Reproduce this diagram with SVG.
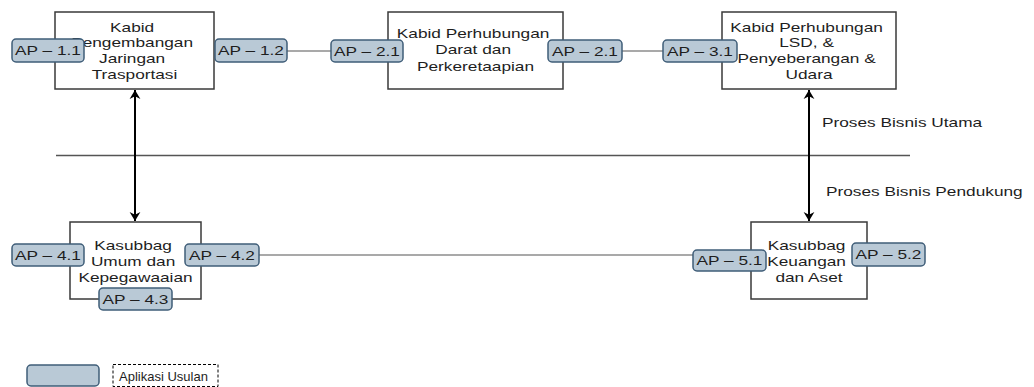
<svg xmlns="http://www.w3.org/2000/svg" width="1034" height="387" viewBox="0 0 1034 387">
  <style>
    .box { fill: #ffffff; stroke: #3a3a3a; stroke-width: 1.5; }
    .ap { fill: #b9c9d6; stroke: #3f5d78; stroke-width: 1.5; }
    .lbl { font-family: "Liberation Sans", Arial, sans-serif; font-size: 12px; fill: #1e1e1e; text-anchor: middle; }
    .side { font-family: "Liberation Sans", Arial, sans-serif; font-size: 12px; fill: #1e1e1e; }
    .link { stroke: #555555; stroke-width: 1.2; fill: none; }
    .flow { stroke: #000000; stroke-width: 2; fill: none; }
  </style>
  <defs>
    <marker id="head" viewBox="0 0 10 12" refX="10" refY="6" markerWidth="9" markerHeight="12" markerUnits="userSpaceOnUse" orient="auto-start-reverse">
      <path d="M0,0 L10,6 L0,12 L3,6 z" fill="#000000"/>
    </marker>
  </defs>

  <rect width="1034" height="387" fill="#ffffff"/>

  <!-- divider between core and supporting processes -->
  <line x1="56" y1="155.5" x2="910" y2="155.5" stroke="#555555" stroke-width="1.5"/>

  <!-- connectors -->
  <g id="connectors">
    <line class="link" x1="287" y1="51" x2="331" y2="51"/>
    <line class="link" x1="622" y1="51" x2="663" y2="51"/>
    <line class="link" x1="259" y1="255" x2="693" y2="255"/>
    <line class="flow" x1="135" y1="90" x2="135" y2="221" marker-start="url(#head)" marker-end="url(#head)"/>
    <line class="flow" x1="809" y1="90" x2="809" y2="221" marker-start="url(#head)" marker-end="url(#head)"/>
  </g>

  <!-- Kabid Pengembangan Jaringan Trasportasi -->
  <g id="node-kabid-pjt">
    <rect class="box" x="55" y="12" width="159" height="77"/>
    <text class="lbl" transform="translate(134.5,31.5) scale(1.44,1)">
      <tspan x="0" dy="0">Kabid</tspan>
      <tspan x="0" dy="16">Pengembangan</tspan>
      <tspan x="0" dy="16">Jaringan</tspan>
      <tspan x="0" dy="15.5">Trasportasi</tspan>
    </text>
  </g>

  <!-- Kabid Perhubungan Darat dan Perkeretaapian -->
  <g id="node-kabid-darat">
    <rect class="box" x="388" y="12" width="175" height="77"/>
    <text class="lbl" transform="translate(475.5,38) scale(1.44,1)">
      <tspan x="0" dy="0">Kabid Perhubungan</tspan>
      <tspan x="0" dy="16.5">Darat dan</tspan>
      <tspan x="0" dy="16.5">Perkeretaapian</tspan>
    </text>
  </g>

  <!-- Kabid Perhubungan LSD, Penyeberangan & Udara -->
  <g id="node-kabid-lsd">
    <rect class="box" x="722" y="12" width="174" height="77"/>
    <text class="lbl" transform="translate(809,31.5) scale(1.44,1)">
      <tspan x="0" dy="0">Kabid Perhubungan</tspan>
      <tspan x="0" dy="15.8">LSD, &amp;</tspan>
      <tspan x="0" dy="15.8">Penyeberangan &amp;</tspan>
      <tspan x="0" dy="15.8">Udara</tspan>
    </text>
  </g>

  <!-- Kasubbag Umum dan Kepegawaaian -->
  <g id="node-kasubbag-umum">
    <rect class="box" x="70" y="222" width="131" height="77"/>
    <text class="lbl" transform="translate(135.5,250) scale(1.44,1)">
      <tspan x="0" dy="0">Kasubbag</tspan>
      <tspan x="0" dy="16">Umum dan</tspan>
      <tspan x="0" dy="16">Kepegawaaian</tspan>
    </text>
  </g>

  <!-- Kasubbag Keuangan dan Aset -->
  <g id="node-kasubbag-keuangan">
    <rect class="box" x="751" y="222" width="116" height="77"/>
    <text class="lbl" transform="translate(809,250) scale(1.44,1)">
      <tspan x="0" dy="0">Kasubbag</tspan>
      <tspan x="0" dy="16">Keuangan</tspan>
      <tspan x="0" dy="16">dan Aset</tspan>
    </text>
  </g>

  <!-- application tags -->
  <g id="ap-1-1">
    <rect class="ap" x="12" y="39" width="72" height="23" rx="4"/>
    <text class="lbl" transform="translate(48,55) scale(1.44,1)">AP – 1.1</text>
  </g>
  <g id="ap-1-2">
    <rect class="ap" x="215" y="39" width="72" height="23" rx="4"/>
    <text class="lbl" transform="translate(251,55) scale(1.44,1)">AP – 1.2</text>
  </g>
  <g id="ap-2-1-in">
    <rect class="ap" x="331" y="40" width="72" height="22" rx="4"/>
    <text class="lbl" transform="translate(367,55.5) scale(1.44,1)">AP – 2.1</text>
  </g>
  <g id="ap-2-1-out">
    <rect class="ap" x="548" y="40" width="74" height="22" rx="4"/>
    <text class="lbl" transform="translate(585,55.5) scale(1.44,1)">AP – 2.1</text>
  </g>
  <g id="ap-3-1">
    <rect class="ap" x="663" y="40" width="74" height="22" rx="4"/>
    <text class="lbl" transform="translate(700,55.5) scale(1.44,1)">AP – 3.1</text>
  </g>
  <g id="ap-4-1">
    <rect class="ap" x="12" y="244" width="72" height="22" rx="4"/>
    <text class="lbl" transform="translate(48,259.5) scale(1.44,1)">AP – 4.1</text>
  </g>
  <g id="ap-4-2">
    <rect class="ap" x="185" y="244" width="74" height="22" rx="4"/>
    <text class="lbl" transform="translate(222,259.5) scale(1.44,1)">AP – 4.2</text>
  </g>
  <g id="ap-4-3">
    <rect class="ap" x="99" y="288" width="73" height="22" rx="4"/>
    <text class="lbl" transform="translate(135.5,303.5) scale(1.44,1)">AP – 4.3</text>
  </g>
  <g id="ap-5-1">
    <rect class="ap" x="693" y="250" width="73" height="21" rx="4"/>
    <text class="lbl" transform="translate(729.5,265) scale(1.44,1)">AP – 5.1</text>
  </g>
  <g id="ap-5-2">
    <rect class="ap" x="852" y="243" width="73" height="23" rx="4"/>
    <text class="lbl" transform="translate(888.5,259) scale(1.44,1)">AP – 5.2</text>
  </g>

  <!-- process area captions -->
  <text class="side" transform="translate(822,127) scale(1.44,1)">Proses Bisnis Utama</text>
  <text class="side" transform="translate(826,196) scale(1.44,1)">Proses Bisnis Pendukung</text>

  <!-- legend -->
  <g id="legend">
    <rect class="ap" x="27" y="365" width="72" height="21" rx="4"/>
    <rect x="113" y="364.5" width="105" height="22" fill="none" stroke="#000000" stroke-width="1" stroke-dasharray="3,2"/>
    <text class="side" style="font-size:13px" x="119" y="381">Aplikasi Usulan</text>
  </g>
</svg>
